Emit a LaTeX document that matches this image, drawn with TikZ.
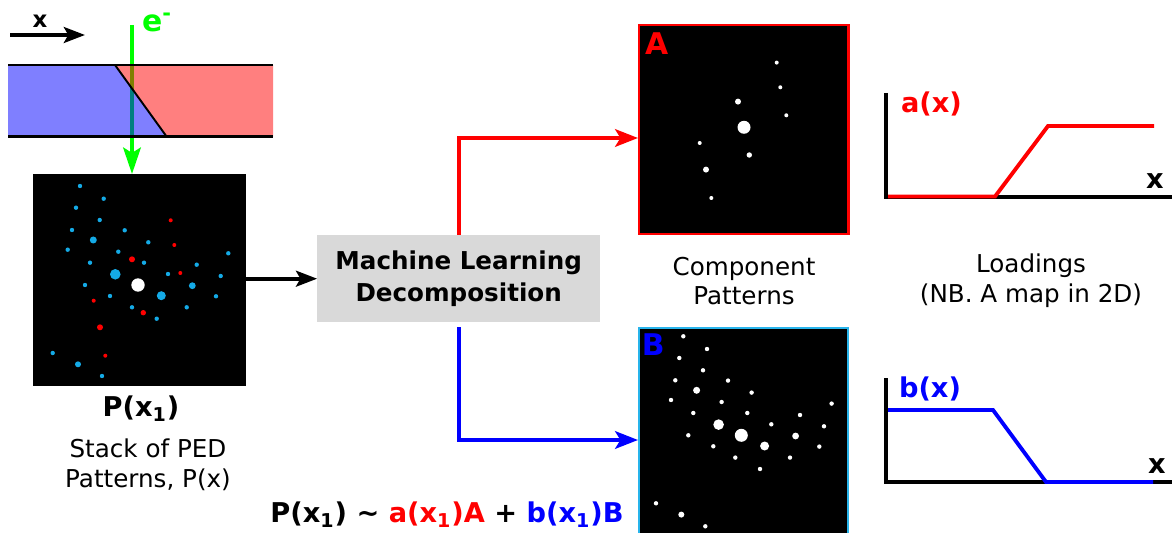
\documentclass[tikz,border=0pt]{standalone}
\usepackage{fontspec}
\setmainfont{DejaVu Sans}
\usetikzlibrary{arrows.meta}

\definecolor{beamgreen}{RGB}{0,255,0}
\definecolor{spotcyan}{RGB}{20,170,230}
\definecolor{framecyan}{RGB}{40,180,235}
\definecolor{boxgray}{RGB}{217,217,217}

% posizioni dei riflessi rispetto al fascio diretto: dx/dy/raggio
\newcommand{\spotscyan}{-58/-99/2.2, -34.3/-86.3/2.2, -62/-77.3/2.2, -38.3/-65/2.2,
  -66/-55/2.2, -13.3/-54.7/2.2, 10.3/-42.7/2.2, -70.3/-35.3/2.2, -19.7/-33.3/2.2,
  -48/-22.3/2.2, 6/-22.3/2.2, 90.3/-31.7/2.2, 58.7/-20.3/2.2, 30/-11/2.2,
  82.7/-9/2.2, -53/0/2.2, -28/11/2.2, 78/11.3/2.2, -6/22.3/2.2, 48.7/22.3/2.2,
  18.7/33.7/2.2, -85.3/68/2.2, -36/91/2.2, -44.7/-45/3.5, -22.7/-10.7/5.3,
  23.3/10.7/4.5, 54.3/0.7/3.4, -60/79.3/3}
\newcommand{\spotsred}{32.7/-64.7/2, 36.3/-40/2, -6/-25.7/3, 42.3/-12/2,
  -44.3/15.7/2, 5.3/27.7/2.7, -38/42.3/3, -32.7/70.7/2}

\begin{document}
\begin{tikzpicture}[x=0.02cm, y=-0.02cm,
    txt/.style={font=\fontsize{14}{17}\selectfont, align=center, inner sep=0pt},
    txtbold/.style={txt, font=\fontsize{15.5}{18}\selectfont\bfseries},
    biglabel/.style={inner sep=0pt, font=\fontsize{17}{20}\selectfont\bfseries},
    pattern/.style={fill=black, inner sep=0pt, outer sep=0pt},
    arrowblack/.style={line width=2.2pt, -{Stealth[length=12pt, width=9pt, inset=2.5pt]}},
    arrowcomp/.style={line width=2.2pt, -{Stealth[length=13pt, width=10pt, inset=3pt]}},
    axis/.style={line width=1.9pt},
    loading/.style={line width=2.2pt}]
  \useasboundingbox (0,0) rectangle (1172,533);

  % Pattern PED di partenza
  \node[pattern, minimum width=4.26cm, minimum height=4.25cm] (ped) at (139.5,280.2) {};
  \begin{scope}[shift={(138,285)}]
    \foreach \dx/\dy/\sr in \spotscyan
      \fill[spotcyan] (\dx,\dy) circle (\sr);
    \foreach \dx/\dy/\sr in \spotsred
      \fill[red] (\dx,\dy) circle (\sr);
    \fill[white] (0,0) circle (6.7);
  \end{scope}

  % Fascio elettronico attraverso il campione
  \coordinate (ebeam) at (132,25);
  \draw[beamgreen, line width=2.3pt, -{Stealth[length=15pt, width=10pt, inset=3pt]}]
    (ebeam) -- (ebeam |- ped.north);
  \node[biglabel, text=beamgreen] (elab) at (157,22) {e\textsuperscript{-}};
  \fill[blue, fill opacity=0.5] (8,65) -- (115,65) -- (166.7,136.7) -- (8,136.7) -- cycle;
  \fill[red, fill opacity=0.5] (115,65) -- (273,65) -- (273,136.7) -- (166.7,136.7) -- cycle;
  \draw[line width=1.5pt] (8,65) -- (273,65);
  \draw[line width=1.5pt] (8,136.7) -- (273,136.7);
  \draw[line width=1.1pt] (115,65) -- (166.7,136.7);

  % Direzione x
  \coordinate (xa) at (10,35);
  \coordinate (xb) at (85,35);
  \draw[arrowblack] (xa) -- (xb);
  \node[inner sep=0pt, font=\fontsize{13}{15}\selectfont\bfseries] (xlab) at (40,21) {x};

  \node[txtbold] (pxone) at (141,409) {P(x\textsubscript{1})};
  \node[txt] (stack) at (148,465) {Stack of PED\\Patterns, P(x)};

  % Decomposizione
  \node[fill=boxgray, inner sep=0pt, minimum width=5.65cm, minimum height=1.75cm,
    txt, font=\fontsize{14}{18}\selectfont\bfseries] (ml) at (458.7,278.7)
    {Machine Learning\\Decomposition};
  \draw[arrowblack] (ped.east |- ml.west) -- (ml.west);

  % Componenti A e B
  \node[pattern, draw=red, line width=1.4pt, minimum width=4.19cm, minimum height=4.18cm]
    (compA) at (743.6,129.7) {};
  \begin{scope}[shift={(744,127.3)}]
    \foreach \dx/\dy/\sr in \spotsred
      \fill[white] (\dx,\dy) circle (\sr);
    \fill[white] (0,0) circle (6.5);
  \end{scope}
  \node[biglabel, text=red] (labA) at (656.7,43.3) {A};

  \node[pattern, draw=framecyan, line width=1.4pt, minimum width=4.19cm, minimum height=4.19cm]
    (compB) at (743.5,432.5) {};
  \begin{scope}[shift={(741.3,435.3)}]
    \foreach \dx/\dy/\sr in \spotscyan
      \fill[white] (\dx,\dy) circle (\sr);
    \fill[white] (0,0) circle (6.5);
  \end{scope}
  \node[biglabel, text=blue] (labB) at (653.3,345) {B};

  \coordinate (inA) at (638,138);
  \coordinate (inB) at (638,440);
  \draw[arrowcomp, red] (ml.north) |- (inA);
  \draw[arrowcomp, blue, shorten <=2.5pt] (ml.south) |- (inB);

  \node[txt] (comptxt) at (744,281) {Component\\Patterns};
  \node[txt] (loadtxt) at (1031,281) {Loadings\\(NB. A map in 2D)};

  % Loadings a(x) e b(x)
  \draw[axis] (886,93) -- (886,197) -- (1172,197);
  \draw[loading, red] (888,196.5) -- (995,196.5) -- (1048,126) -- (1154,126);
  \node[txtbold, text=red] (alab) at (931.5,104) {a(x)};
  \node[txtbold] (xalab) at (1155,181) {x};

  \draw[axis] (886,378) -- (886,482) -- (1172,482);
  \draw[loading, blue] (888,410) -- (993,410) -- (1046,482) -- (1153,482);
  \node[txtbold, text=blue] (blab) at (930,389) {b(x)};
  \node[txtbold] (xblab) at (1157,466) {x};

  % Formula finale
  \node[txtbold] (formula) at (447,515) {P(x\textsubscript{1}) \textasciitilde{}
    \textcolor{red}{a(x\textsubscript{1})A} + \textcolor{blue}{b(x\textsubscript{1})B}};
\end{tikzpicture}
\end{document}
